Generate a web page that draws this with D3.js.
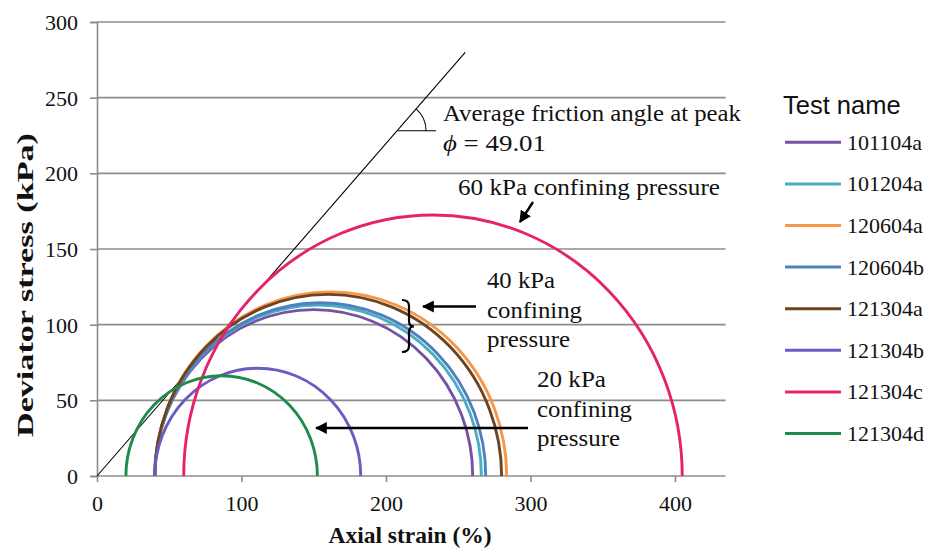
<!DOCTYPE html>
<html>
<head>
<meta charset="utf-8">
<script src="https://cdn.jsdelivr.net/npm/d3@7"></script>
<style>
  html, body { margin: 0; padding: 0; background: #fff; }
  svg { display: block; }
</style>
</head>
<body>
<svg id="chart" width="932" height="551"></svg>
<script>
// Mohr circles for each triaxial test: minor and major principal stress (kPa)
const testNames = ["101104a", "101204a", "120604a", "120604b", "121304a", "121304b", "121304c", "121304d"];
const sigma3 = [40, 40, 40, 40, 40, 40, 60, 20];
const sigma1 = [260, 266, 283.5, 269, 280, 182.5, 405, 152.5];
const seriesColors = ["#7552a3", "#4bacc6", "#f79646", "#4f81bd", "#6e4320", "#6a5cc0", "#e6226e", "#1f8a4c"];

const xTicks = [0, 100, 200, 300, 400];
const yTicks = [0, 50, 100, 150, 200, 250, 300];
const frictionAngle = 49.01; // degrees, average at peak

const svg = d3.select("#chart");
const serif = "'Liberation Serif', 'Times New Roman', serif";
const sans = "'Liberation Sans', Arial, sans-serif";
const gridColor = "#8c8c8c";

const x = d3.scaleLinear().domain([0, 435]).range([97, 725.6]);
const y = d3.scaleLinear().domain([0, 300]).range([476, 22]);

// Horizontal gridlines
svg.append("g").selectAll("line")
  .data(yTicks.filter(d => d > 0))
  .join("line")
  .attr("x1", x(0)).attr("x2", x.range()[1])
  .attr("y1", d => y(d)).attr("y2", d => y(d))
  .attr("stroke", gridColor).attr("stroke-width", 1.6);

// Y axis
const yAxis = svg.append("g")
  .attr("transform", `translate(${x(0)},0)`)
  .call(d3.axisLeft(y).tickValues(yTicks).tickSize(7).tickPadding(12).tickFormat(d3.format("d")));
yAxis.select(".domain").attr("stroke", gridColor).attr("stroke-width", 1.6);
yAxis.selectAll(".tick line").attr("stroke", gridColor).attr("stroke-width", 1.6);
yAxis.selectAll(".tick text")
  .attr("font-family", serif).attr("font-size", 22).attr("fill", "#111")
  .attr("dy", "0.34em");

// X axis
const xAxis = svg.append("g")
  .attr("transform", `translate(0,${y(0)})`)
  .call(d3.axisBottom(x).tickValues(xTicks).tickSize(6).tickPadding(12).tickFormat(d3.format("d")));
xAxis.select(".domain").attr("stroke", gridColor).attr("stroke-width", 1.6)
  .attr("d", `M${x(0)},0H${x.range()[1]}`);
xAxis.selectAll(".tick line").attr("stroke", gridColor).attr("stroke-width", 1.6);
xAxis.selectAll(".tick text")
  .attr("font-family", serif).attr("font-size", 22).attr("fill", "#111")
  .attr("dy", "0.76em");

// Axis titles
svg.append("text")
  .attr("x", 410).attr("y", 543)
  .attr("text-anchor", "middle")
  .attr("font-family", serif).attr("font-weight", "bold").attr("font-size", 23.5)
  .attr("fill", "#111")
  .text("Axial strain (%)");

svg.append("text")
  .attr("transform", "translate(33,285) rotate(-90)")
  .attr("text-anchor", "middle")
  .attr("font-family", serif).attr("font-weight", "bold").attr("font-size", 22.5)
  .attr("textLength", 304).attr("lengthAdjust", "spacingAndGlyphs")
  .attr("fill", "#111")
  .text("Deviator stress (kPa)");

// Failure envelope drawn at the friction angle
const envelopeTop = 280;
const slopePx = Math.tan(frictionAngle * Math.PI / 180);
const ex0 = x(0), ey0 = y(0);
const ey1 = y(envelopeTop);
const ex1 = ex0 + (ey0 - ey1) / slopePx;
svg.append("line")
  .attr("x1", ex0).attr("y1", ey0).attr("x2", ex1).attr("y2", ey1)
  .attr("stroke", "#000").attr("stroke-width", 1.1);

// Angle marker on the envelope
const markY = 130.7;
const markX = ex0 + (ey0 - markY) / slopePx;
const arcR = 29;
const a = frictionAngle * Math.PI / 180;
svg.append("line")
  .attr("x1", markX).attr("y1", markY).attr("x2", markX + 39).attr("y2", markY)
  .attr("stroke", "#000").attr("stroke-width", 1.1);
svg.append("path")
  .attr("d", `M${markX + arcR * Math.cos(a)},${markY - arcR * Math.sin(a)} A${arcR},${arcR} 0 0 1 ${markX + arcR},${markY}`)
  .attr("fill", "none").attr("stroke", "#000").attr("stroke-width", 1.1);

// Mohr semicircles
const circles = testNames.map((name, i) => ({ name, s3: sigma3[i], s1: sigma1[i], color: seriesColors[i] }));
svg.append("g").selectAll("path")
  .data(circles)
  .join("path")
  .attr("d", d => {
    const r = (d.s1 - d.s3) / 2;
    const rx = x(r) - x(0);
    const ry = y(0) - y(r);
    return `M${x(d.s3)},${y(0)} A${rx},${ry} 0 0 1 ${x(d.s1)},${y(0)}`;
  })
  .attr("fill", "none")
  .attr("stroke", d => d.color)
  .attr("stroke-width", 2.9);

// Annotations
function label(txt, lx, ly, width, size) {
  const t = svg.append("text")
    .attr("x", lx).attr("y", ly)
    .attr("font-family", serif).attr("font-size", size || 23)
    .attr("fill", "#111");
  if (width) t.attr("textLength", width).attr("lengthAdjust", "spacingAndGlyphs");
  t.text(txt);
  return t;
}
label("Average friction angle at peak", 443, 121, 298);
const phi = svg.append("text")
  .attr("x", 443).attr("y", 151)
  .attr("font-family", serif).attr("font-size", 23).attr("fill", "#111")
  .attr("textLength", 103).attr("lengthAdjust", "spacingAndGlyphs");
phi.append("tspan").attr("font-style", "italic").text("ϕ");
phi.append("tspan").text(" = " + frictionAngle.toFixed(2));

label("60 kPa confining pressure", 458, 195, 262);
label("40 kPa", 487, 288, 68);
label("confining", 487, 318, 95);
label("pressure", 487, 347, 83);
label("20 kPa", 537, 387, 69);
label("confining", 537, 417, 95);
label("pressure", 537, 446, 83);

// Arrows
const defs = svg.append("defs");
defs.append("marker")
  .attr("id", "head")
  .attr("viewBox", "0 0 10 10")
  .attr("refX", 9).attr("refY", 5)
  .attr("markerWidth", 5).attr("markerHeight", 5)
  .attr("markerUnits", "strokeWidth")
  .attr("orient", "auto")
  .append("path").attr("d", "M0,0 L10,5 L0,10 Z").attr("fill", "#000");

function arrow(x1, y1, x2, y2) {
  svg.append("line")
    .attr("x1", x1).attr("y1", y1).attr("x2", x2).attr("y2", y2)
    .attr("stroke", "#000").attr("stroke-width", 2.4)
    .attr("marker-end", "url(#head)");
}
arrow(533, 202, 520, 222);
arrow(476, 306.5, 423, 306.5);
arrow(528, 428, 316, 428);

// Brace grouping the 40 kPa circles
svg.append("path")
  .attr("d", "M402,300 Q409,300 409,306 L409,321 Q409,326.5 414,326.5 Q409,326.5 409,332 L409,346 Q409,352 402,352")
  .attr("fill", "none").attr("stroke", "#000").attr("stroke-width", 2.2);

// Legend
svg.append("text")
  .attr("x", 783).attr("y", 114)
  .attr("font-family", sans).attr("font-size", 25.5).attr("fill", "#111")
  .text("Test name");

const legendStep = 41.6;
const legend = svg.append("g").selectAll("g")
  .data(circles)
  .join("g")
  .attr("transform", (d, i) => `translate(0,${142.3 + i * legendStep})`);
legend.append("line")
  .attr("x1", 785).attr("x2", 841)
  .attr("stroke", d => d.color).attr("stroke-width", 3);
legend.append("text")
  .attr("x", 847).attr("y", 0).attr("dy", "0.34em")
  .attr("font-family", serif).attr("font-size", 22).attr("fill", "#111")
  .text(d => d.name);
</script>
</body>
</html>
